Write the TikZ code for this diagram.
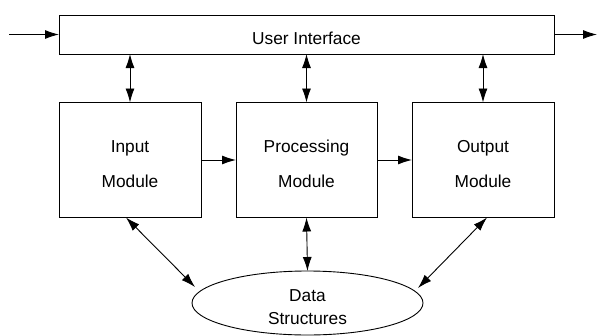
\documentclass[tikz,border=0pt]{standalone}
\usepackage{fontspec}
\setmainfont{Liberation Sans}
\usetikzlibrary{shapes.geometric,arrows.meta}
\begin{document}
\begin{tikzpicture}[x=1pt,y=-1pt,
  every node/.style={font=\fontsize{17.3}{20}\selectfont},
  box/.style={draw=black,line width=0.9pt,inner sep=0pt,outer sep=0pt},
  txt/.style={align=center,inner sep=0pt},
  conn/.style={line width=0.9pt,-{Latex[length=14pt,width=9pt]}},
  dconn/.style={line width=0.9pt,{Latex[length=14pt,width=9pt]}-{Latex[length=14pt,width=9pt]}}]
\useasboundingbox (0,0) rectangle (597,335);
\begin{scope}
\clip (0,0) rectangle (597,335);
\node[box,minimum width=495pt,minimum height=39pt,
  label={[txt,yshift=-4pt]center:User Interface}] (ui) at (306.5,34.5) {};
\node[box,minimum width=142pt,minimum height=115pt,
  label={[txt,yshift=-4pt]center:Input\\[15pt]Module}] (in) at (130,160) {};
\node[box,minimum width=141pt,minimum height=115pt,
  label={[txt,yshift=-4pt]center:Processing\\[15pt]Module}] (pr) at (306.5,160) {};
\node[box,minimum width=142pt,minimum height=115pt,
  label={[txt,yshift=-4pt]center:Output\\[15pt]Module}] (out) at (483,160) {};
\node[box,ellipse,minimum width=231pt,minimum height=64pt,
  label={[txt,yshift=-4pt]center:Data\\[3pt]Structures}] (ds) at (307.5,303) {};
\coordinate (lin) at (9,34.5);
\coordinate (rout) at (597,34.5);
\draw[conn] (lin) -- (ui.west);
\draw[conn] (ui.east) -- (rout);
\draw[dconn] (in.north |- ui.south) -- (in.north);
\draw[dconn] (pr.north |- ui.south) -- (pr.north);
\draw[dconn] (out.north |- ui.south) -- (out.north);
\draw[conn] (in.east) -- (pr.west);
\draw[conn] (pr.east) -- (out.west);
\draw[dconn] (pr.south) -- (ds.north);
\draw[dconn] (in.-94) -- ([shift={(3,-16)}]ds.west);
\draw[dconn] (out.-86) -- ([shift={(-5,-15)}]ds.east);
\end{scope}
\end{tikzpicture}
\end{document}
